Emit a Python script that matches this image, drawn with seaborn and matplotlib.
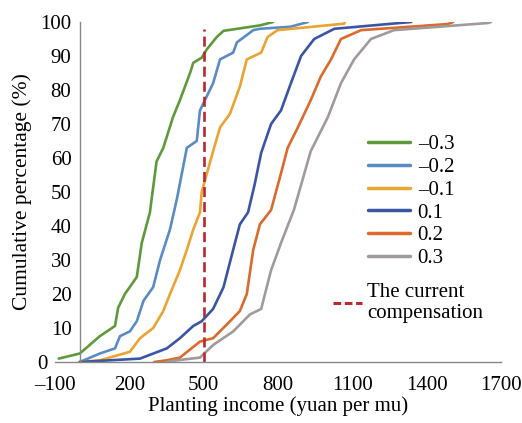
import pandas as pd
import seaborn as sns
import matplotlib.pyplot as plt
from matplotlib.ticker import MultipleLocator, FuncFormatter
from matplotlib.lines import Line2D
from matplotlib.transforms import ScaledTranslation

# cumulative curves (income, cumulative %)
labels = ['–0.3', '–0.2', '–0.1', '0.1', '0.2', '0.3']
green_x = [-85, 0, 81, 142, 155, 182, 230, 250, 283, 290, 310, 337, 376, 404, 445, 458, 492, 513, 553, 580, 727, 780]
green_y = [1, 2.5, 7.6, 10.6, 16, 20, 25, 35, 44, 48, 59, 63, 72, 77, 85, 88, 89.5, 92, 95.6, 97.4, 99, 100]
lblue_x = [0, 81, 142, 162, 202, 230, 257, 296, 324, 364, 392, 432, 472, 485, 538, 566, 619, 634, 700, 727, 850, 921]
lblue_y = [0, 2.5, 4, 7.6, 9, 12, 18, 22, 30, 39, 48, 63, 65, 74, 82, 89, 91, 94, 97.6, 98, 98.6, 100]
gold_x = [0, 81, 202, 243, 296, 337, 364, 404, 432, 458, 485, 492, 538, 566, 606, 646, 674, 732, 758, 798, 1066, 1070]
gold_y = [0, 0.5, 3, 7, 10, 15, 20, 27, 33, 39, 44, 50, 62, 69, 73, 81, 89, 91, 95.6, 97.6, 99.5, 100]
navy_x = [0, 243, 351, 404, 458, 492, 538, 580, 619, 646, 679, 705, 732, 772, 812, 852, 893, 946, 1027, 1338]
navy_y = [0, 1, 4, 7, 10.6, 12, 15.6, 22, 33, 40.5, 44, 52, 61.5, 70, 74, 82, 90, 95, 98, 100]
orange_x = [300, 351, 404, 485, 538, 593, 646, 674, 700, 727, 772, 812, 839, 880, 932, 973, 1014, 1054, 1135, 1486, 1507]
orange_y = [0, 0.5, 1.3, 6, 7, 11, 15, 20, 33, 40.5, 44.7, 55.5, 63, 69, 77, 84, 89, 95, 97.6, 99.4, 100]
grey_x = [350, 392, 485, 538, 619, 687, 732, 772, 812, 864, 932, 1001, 1054, 1107, 1175, 1268, 1647, 1660]
grey_y = [0, 0.5, 1.3, 5, 9, 14, 15.6, 27, 35, 44.7, 62, 72, 82, 89, 95, 97.6, 99.7, 100]
colors = ['#5E9A3C', '#5B8BC4', '#E9A431', '#3A55A4', '#DB6A2C', '#A09A9A']

current_comp = 500
current_top = 98

series = [(green_x, green_y), (lblue_x, lblue_y), (gold_x, gold_y),
          (navy_x, navy_y), (orange_x, orange_y), (grey_x, grey_y)]
frames = []
for lab, (xs, ys) in zip(labels, series):
    frames.append(pd.DataFrame({'income': xs, 'pct': ys, 'scenario': lab}))
df = pd.concat(frames, ignore_index=True)

sns.set_style('white')
plt.rcParams['font.family'] = ['Liberation Serif', 'DejaVu Serif']
plt.rcParams['text.color'] = 'black'
plt.rcParams['axes.labelcolor'] = 'black'
plt.rcParams['xtick.color'] = 'black'
plt.rcParams['ytick.color'] = 'black'

fig = plt.figure(figsize=(5.22, 4.23), dpi=100)
ax = fig.add_axes([0.1054, 0.1442, 0.8544, 0.8038])

sns.lineplot(data=df, x='income', y='pct', hue='scenario', hue_order=labels,
             palette=colors, sort=False, estimator=None, units='scenario',
             linewidth=1.9, ax=ax, legend=False)
ax.plot([current_comp, current_comp], [0, current_top], color='#B8282E',
        linestyle=(0, (3.8, 1.9)), linewidth=1.9)

ax.set_xlim(-100, 1700)
ax.set_ylim(0, 100)
ax.spines['left'].set_position(('data', 0))
for s in ['top', 'right']:
    ax.spines[s].set_visible(False)
for s in ['left', 'bottom']:
    ax.spines[s].set_color('#888888')
    ax.spines[s].set_linewidth(1.0)

ax.xaxis.set_major_locator(MultipleLocator(100))
ax.xaxis.set_major_formatter(FuncFormatter(
    lambda v, p: (f'{int(round(v))}'.replace('-', '–') if int(round(v + 100)) % 300 == 0 else '')))
ax.yaxis.set_major_locator(MultipleLocator(10))
ax.tick_params(axis='both', direction='out', width=1.0, color='#888888', labelsize=15)
ax.tick_params(axis='y', length=5, pad=1)
ax.tick_params(axis='x', length=4, pad=6)

ax.set_xlabel('Planting income (yuan per mu)', fontsize=15, labelpad=1)
ax.set_ylabel('Cumulative percentage (%)', fontsize=15.5, labelpad=4)

fig.canvas.draw()
# the zero label sits left of the x-axis end, as in the original
for t in ax.get_yticklabels():
    if t.get_text() == '0':
        t.set_transform(t.get_transform() + ScaledTranslation(-0.24, 0, fig.dpi_scale_trans))

handles = [Line2D([], [], color=c, linewidth=2.5) for c in colors]
leg1 = ax.legend(handles, labels, loc='upper left', bbox_to_anchor=(0.702, 0.668),
                 frameon=False, fontsize=15, handlelength=2.0, handletextpad=0.38,
                 labelspacing=0.15, borderpad=0, borderaxespad=0)
ax.add_artist(leg1)
dash = Line2D([], [], color='#B8282E', linewidth=2.2, linestyle=(0, (2.5, 1.2)))
leg2 = ax.legend([dash], ['The current\ncompensation'], loc='upper left',
                 bbox_to_anchor=(0.623, 0.232), frameon=False, fontsize=15,
                 handlelength=1.4, handletextpad=0.25, borderpad=0, borderaxespad=0,
                 labelspacing=0.0)
for t in leg2.get_texts():
    t.set_linespacing(1.15)

fig.savefig('out.png', dpi=100, facecolor='white')
